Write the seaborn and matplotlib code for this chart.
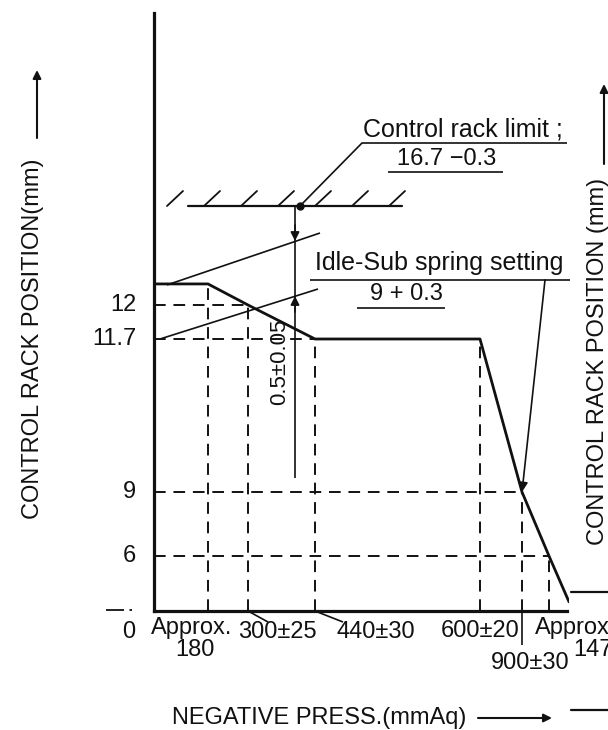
import numpy as np
import matplotlib
matplotlib.use("Agg")
import matplotlib.pyplot as plt
import seaborn as sns

# Boost-compensator characteristic: control rack position vs. negative pressure
pressure = [0, 180, 300, 440, 600, 900, 1470, 1900]      # mmAq
rack = [13.0, 13.0, 12.0, 11.7, 11.7, 9.0, 6.0, 1.0]     # mm

x_tick_values = [180, 300, 440, 600, 900, 1470]
x_tick_labels = ["Approx.\n180", "300±25", "440±30", "600±20", "900±30", "Approx.\n1470"]
y_tick_values = [0, 6, 9, 11.7, 12]
y_tick_labels = ["0", "6", "9", "11.7", "12"]

rack_limit = 16.7
rack_limit_title = "Control rack limit ;"
rack_limit_label = "16.7 \u22120.3"
idle_sub_title = "Idle-Sub spring setting"
idle_sub_label = "9 + 0.3"
idle_sub_point = (900, 9.0)
gap_label = "0.5\u00b10.05"

# Schematic (not to scale) axes: anchor values and where they are drawn (px)
X_ANCH = [0, 180, 300, 440, 600, 900, 1470, 1900]
X_POS = [154, 208, 248, 315, 480, 522, 549, 569]
Y_ANCH = [0, 6, 9, 11.7, 12, 16.7, 20]
Y_POS = [119, 174, 238, 391, 425, 524, 717]

W, H = 608, 730


def fx(v):
    return np.interp(v, X_ANCH, X_POS)


def fx_inv(p):
    return np.interp(p, X_POS, X_ANCH)


def fy(v):
    return np.interp(v, Y_ANCH, Y_POS)


def fy_inv(p):
    return np.interp(p, Y_POS, Y_ANCH)


def px(v):
    return float(fx(v))


def py(v):
    return H - float(fy(v))


sns.set_theme(style="white")
plt.rcParams["font.family"] = ["Liberation Sans", "DejaVu Sans"]
INK = "#111111"
FS = 17

fig = plt.figure(figsize=(W / 100, H / 100), dpi=100)
fig.patch.set_facecolor("white")

ax = fig.add_axes([X_POS[0] / W, Y_POS[0] / H,
                   (X_POS[-1] - X_POS[0]) / W, (Y_POS[-1] - Y_POS[0]) / H])
ax.set_xscale("function", functions=(fx, fx_inv))
ax.set_yscale("function", functions=(fy, fy_inv))
ax.set_facecolor("none")

# main characteristic curve
sns.lineplot(x=pressure, y=rack, ax=ax, color=INK, lw=2.0,
             estimator=None, sort=False, legend=False)

ax.set_xlim(X_ANCH[0], X_ANCH[-1])
ax.set_ylim(Y_ANCH[0], Y_ANCH[-1])
ax.set_xticks([])
ax.set_yticks([])
ax.set_xlabel("")
ax.set_ylabel("")
for s in ("top", "right"):
    ax.spines[s].set_visible(False)
for s in ("left", "bottom"):
    ax.spines[s].set_linewidth(2.3)
    ax.spines[s].set_color(INK)
ax.spines["bottom"].set_bounds(0, float(fx_inv(567)))

# dashed guide lines from the curve to the axes
dash = dict(color=INK, lw=1.4, dashes=(6, 4), clip_on=False)
curve = dict(zip(pressure, rack))
for xv in x_tick_values:
    ax.plot([xv, xv], [0, curve[xv]], **dash)
guide_to = {12: 300, 11.7: 440, 9: 900, 6: 1470}
for yv, xend in guide_to.items():
    ax.plot([0, xend], [yv, yv], **dash)

# overlay in pixel units for annotations
ov = fig.add_axes([0, 0, 1, 1])
ov.set_xlim(0, W)
ov.set_ylim(H, 0)
ov.axis("off")
ov.patch.set_alpha(0)

thin = dict(color=INK, lw=1.2, solid_capstyle="butt")
y0 = py(0)

# x tick labels
xl = dict(fontsize=FS, color=INK, va="center")
a180 = x_tick_labels[0].split("\n")
ov.text(px(180) - 16, y0 + 17, a180[0], ha="center", **xl)
ov.text(px(180) - 13, y0 + 39, a180[1], ha="center", **xl)
ov.plot([px(300), px(300) + 20], [y0, y0 + 11], **thin)
ov.text(px(300) + 29, y0 + 21, x_tick_labels[1], ha="center", **xl)
ov.plot([px(440), px(440) + 28], [y0, y0 + 11], **thin)
ov.text(px(440) + 61, y0 + 21, x_tick_labels[2], ha="center", **xl)
ov.text(px(600), y0 + 20, x_tick_labels[3], ha="center", **xl)
ov.plot([px(900), px(900)], [y0, y0 + 34], **thin)
ov.text(px(900) + 8, y0 + 52, x_tick_labels[4], ha="center", **xl)
# the last label runs off the right edge of the sheet
a1470 = x_tick_labels[5].split("\n")
ov.text(px(1470) - 14, y0 + 17, a1470[0], ha="left", **xl)
ov.text(px(1470) + 24, y0 + 39, a1470[1], ha="left", **xl)

# y tick labels
for yv, lab in zip(y_tick_values, y_tick_labels):
    if yv == 0:
        ov.text(129, y0 + 21, lab, ha="center", va="center", fontsize=FS, color=INK)
    else:
        ov.text(136, py(yv), lab, ha="right", va="center", fontsize=FS, color=INK)
ov.plot([106, 132], [y0 - 1, y0 - 1], color=INK, lw=1.3, dashes=(10, 3))

# axis titles with arrows
ov.text(33, 339, "CONTROL RACK POSITION(mm)", rotation=90, ha="center",
        va="center", fontsize=FS, color=INK)
ov.annotate("", xy=(37, 70), xytext=(37, 138),
            arrowprops=dict(arrowstyle="-|>", color=INK, lw=1.5,
                            mutation_scale=12, shrinkA=0, shrinkB=0))
ov.text(172, 718, "NEGATIVE PRESS.(mmAq)", ha="left", va="center",
        fontsize=FS, color=INK)
ov.annotate("", xy=(552, 718), xytext=(478, 718),
            arrowprops=dict(arrowstyle="-|>", color=INK, lw=1.5,
                            mutation_scale=12, shrinkA=0, shrinkB=0))

# control rack limit stop with hatching
ylim_px = py(rack_limit)
ov.plot([188, 402], [ylim_px, ylim_px], color=INK, lw=1.6)
for hx in np.arange(167, 400, 37):
    ov.plot([hx, hx + 16], [ylim_px, ylim_px - 15], color=INK, lw=1.3)
ov.plot([300, 362, 567], [ylim_px, 143, 143], **thin)
ov.plot([300], [ylim_px], marker="o", ms=5, color=INK)
ov.text(363, 130, rack_limit_title, ha="left", va="center", fontsize=FS + 1, color=INK)
ov.text(397, 159, rack_limit_label, ha="left", va="center", fontsize=FS, color=INK)
ov.plot([388, 503], [172, 172], **thin)

# idle-sub spring setting lines
ov.plot([167, 320], [py(13.0) + 1, 233], **thin)
ov.plot([160, 318], [py(11.7), 289], **thin)
ov.text(315, 263, idle_sub_title, ha="left", va="center", fontsize=FS + 1, color=INK)
ov.plot([310, 570], [280, 280], **thin)
ov.text(370, 294, idle_sub_label, ha="left", va="center", fontsize=FS, color=INK)
ov.plot([357, 445], [308, 308], **thin)
ov.annotate("", xy=(px(idle_sub_point[0]), py(idle_sub_point[1])), xytext=(545, 280),
            arrowprops=dict(arrowstyle="-|>", color=INK, lw=1.2,
                            mutation_scale=14, shrinkA=0, shrinkB=0))

# 0.5 +/- 0.05 dimension between the stop and spring lines
xd = 295
ov.plot([xd, xd], [ylim_px, 478], **thin)
ov.annotate("", xy=(xd, 241), xytext=(xd, 225),
            arrowprops=dict(arrowstyle="-|>", color=INK, lw=1.2,
                            mutation_scale=13, shrinkA=0, shrinkB=0))
ov.annotate("", xy=(xd, 296), xytext=(xd, 312),
            arrowprops=dict(arrowstyle="-|>", color=INK, lw=1.2,
                            mutation_scale=13, shrinkA=0, shrinkB=0))
ov.text(280, 362, gap_label, rotation=90, ha="center", va="center",
        fontsize=FS - 1, color=INK)

# neighbouring chart edge
ov.text(598, 361, "CONTROL RACK POSITION (mm)", rotation=90, ha="center",
        va="center", fontsize=FS, color=INK)
ov.annotate("", xy=(604, 84), xytext=(604, 164),
            arrowprops=dict(arrowstyle="-|>", color=INK, lw=1.5,
                            mutation_scale=12, shrinkA=0, shrinkB=0))
ov.plot([571, 610], [592, 592], color=INK, lw=1.6)
ov.plot([571, 610], [710, 710], color=INK, lw=1.6)

fig.savefig("out.png", dpi=100, facecolor="white")
